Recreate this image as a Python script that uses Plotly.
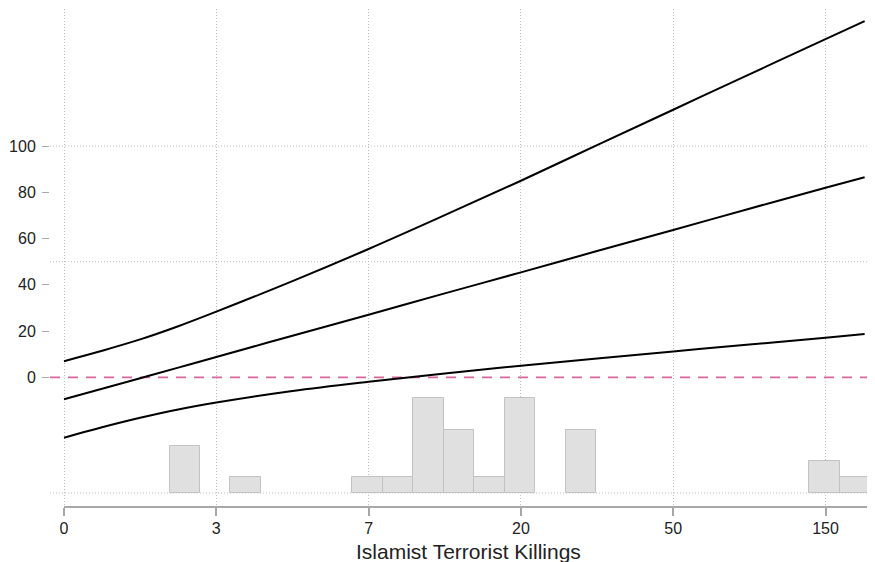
import plotly.graph_objects as go

# ---- data (x is in transformed units; tick labels give killings) ----
tick_pos = [0, 1, 2, 3, 4, 5]
tick_labels = ["0", "3", "7", "20", "50", "150"]
y_ticks = [0, 20, 40, 60, 80, 100]

x_line = [0, 0.25, 0.5, 0.75, 1.0, 1.5, 2.0, 2.5, 3.0, 3.5, 4.0, 4.5, 5.0, 5.257]
est = [-9.5, -4.9, -0.4, 4.2, 8.8, 18.0, 27.1, 36.3, 45.4, 54.6, 63.7, 72.9, 82.0, 86.5]
upper = [7.0, 11.5, 16.4, 22.1, 28.4, 41.6, 55.5, 70.1, 85.0, 100.4, 115.7, 131.0, 146.2, 154.0]
lower = [-26.1, -21.6, -17.5, -13.9, -10.9, -5.9, -1.9, 1.7, 5.0, 8.1, 11.2, 14.2, 17.1, 18.7]

hist_centers = [0.793, 1.193, 1.993, 2.193, 2.393, 2.593, 2.793, 2.993, 3.393, 4.993, 5.193]
hist_counts = [3, 1, 1, 1, 6, 4, 1, 6, 4, 2, 1]
hist_width = 0.2
hist_base = -50
hist_max_height = 41.0

grid_y = [-50, 50, 100]

scale = hist_max_height / max(hist_counts)
fig = go.Figure()

fig.add_trace(go.Bar(
    x=hist_centers, y=[c * scale for c in hist_counts], base=hist_base,
    width=hist_width, marker=dict(color="#e0e0e0", line=dict(color="#c2c2c2", width=1)),
    showlegend=False, hoverinfo="skip"))

for ys in (upper, est, lower):
    fig.add_trace(go.Scatter(x=x_line, y=ys, mode="lines",
                             line=dict(color="black", width=2, shape="spline", smoothing=1.0),
                             showlegend=False))

shapes = []
for gy in grid_y:
    shapes.append(dict(type="line", xref="paper", x0=0, x1=1, yref="y", y0=gy, y1=gy,
                       line=dict(color="#bdbdbd", width=1, dash="1px,2px"), layer="below"))
shapes.append(dict(type="line", xref="paper", x0=0, x1=1, yref="y", y0=0, y1=0,
                   line=dict(color="#d9669c", width=1.8, dash="10px,8px"), layer="below"))
shapes.append(dict(type="line", xref="x", x0=0, x1=hist_centers[-1] + hist_width / 2,
                   yref="paper", y0=0, y1=0, line=dict(color="#a8a8a8", width=2)))

fig.update_layout(
    width=867, height=554,
    margin=dict(l=42, r=0, t=1, b=55),
    paper_bgcolor="white", plot_bgcolor="white",
    font=dict(family="Liberation Sans, Arial, sans-serif", color="#222222", size=16),
    bargap=0,
    shapes=shapes,
    xaxis=dict(range=[-0.0919, 5.325], tickvals=tick_pos, ticktext=tick_labels,
               showgrid=True, gridcolor="#bdbdbd", gridwidth=1, griddash="1px,2px",
               zeroline=False, showline=False, ticks="outside", ticklen=8,
               tickcolor="#a8a8a8", tickwidth=1.5, tickfont=dict(size=16),
               ticklabelstandoff=-1),
    yaxis=dict(range=[-56.05, 159.25], tickvals=y_ticks, showgrid=False, zeroline=False,
               showline=False, ticks="outside", ticklen=7, tickcolor="#a8a8a8",
               tickwidth=1, tickfont=dict(size=16), ticklabelstandoff=3),
    annotations=[dict(text="Islamist Terrorist Killings", xref="x", x=2.653,
                      yref="paper", y=-0.062, yanchor="top", xanchor="center",
                      showarrow=False, font=dict(size=21, color="#222222"))],
)

fig.write_html("out.html")
